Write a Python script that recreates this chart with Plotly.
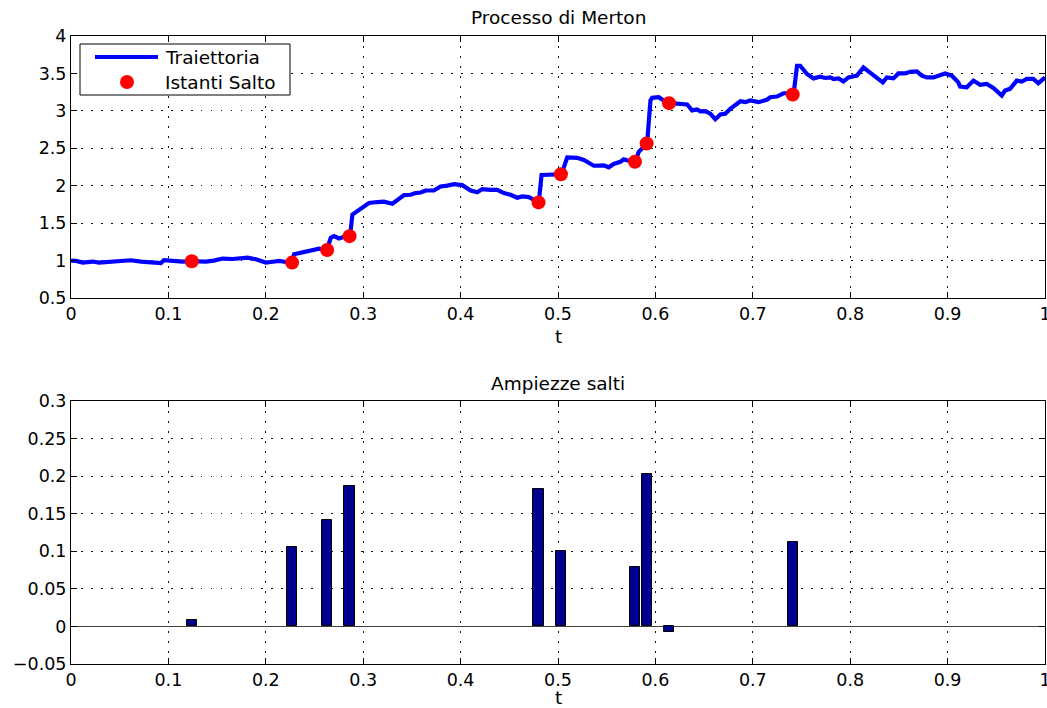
import plotly.graph_objects as go
from plotly.subplots import make_subplots

# Simulated Merton jump-diffusion path (time, level)
path_t = [0.0000, 0.0051, 0.0120, 0.0223, 0.0287, 0.0390, 0.0492, 0.0615, 0.0718, 0.0838,
          0.0923, 0.0954, 0.1044, 0.1146, 0.1231, 0.1385, 0.1467, 0.1556, 0.1659, 0.1723,
          0.1813, 0.1897, 0.2000, 0.2051, 0.2136, 0.2205, 0.2267, 0.2290, 0.2390, 0.2462,
          0.2547, 0.2626, 0.2667, 0.2701, 0.2752, 0.2803, 0.2865, 0.2889, 0.2974, 0.3059,
          0.3146, 0.3213, 0.3300, 0.3351, 0.3419, 0.3487, 0.3538, 0.3590, 0.3641, 0.3726,
          0.3795, 0.3864, 0.3931, 0.4017, 0.4103, 0.4171, 0.4223, 0.4308, 0.4377, 0.4444,
          0.4513, 0.4582, 0.4633, 0.4701, 0.4752, 0.4803, 0.4831, 0.4923, 0.5043, 0.5060,
          0.5095, 0.5197, 0.5265, 0.5368, 0.5470, 0.5521, 0.5572, 0.5641, 0.5675, 0.5726,
          0.5795, 0.5829, 0.5915, 0.5949, 0.5967, 0.6035, 0.6086, 0.6154, 0.6239, 0.6326,
          0.6377, 0.6428, 0.6462, 0.6513, 0.6564, 0.6615, 0.6667, 0.6718, 0.6769, 0.6872,
          0.6923, 0.6974, 0.7059, 0.7145, 0.7179, 0.7248, 0.7315, 0.7351, 0.7418, 0.7454,
          0.7487, 0.7556, 0.7623, 0.7692, 0.7744, 0.7795, 0.7829, 0.7879, 0.7931, 0.7982,
          0.8069, 0.8136, 0.8187, 0.8256, 0.8335, 0.8376, 0.8444, 0.8495, 0.8564, 0.8615,
          0.8684, 0.8735, 0.8787, 0.8855, 0.8923, 0.8974, 0.9043, 0.9110, 0.9128, 0.9197,
          0.9265, 0.9333, 0.9402, 0.9470, 0.9556, 0.9590, 0.9641, 0.9710, 0.9761, 0.9813,
          0.9880, 0.9931, 1.0000]
path_s = [1.000, 0.995, 0.973, 0.987, 0.973, 0.987, 0.995, 1.004, 0.987, 0.977,
          0.968, 1.004, 0.995, 0.987, 0.991, 0.987, 1.000, 1.027, 1.021, 1.027,
          1.040, 1.017, 0.973, 0.981, 0.995, 0.981, 0.973, 1.084, 1.114, 1.141,
          1.159, 1.141, 1.305, 1.326, 1.296, 1.318, 1.326, 1.614, 1.689, 1.769,
          1.782, 1.786, 1.760, 1.803, 1.875, 1.879, 1.902, 1.909, 1.936, 1.936,
          1.989, 2.002, 2.021, 2.008, 1.936, 1.912, 1.955, 1.945, 1.945, 1.902,
          1.879, 1.839, 1.856, 1.848, 1.813, 1.777, 2.144, 2.144, 2.153, 2.246,
          2.379, 2.373, 2.343, 2.267, 2.273, 2.246, 2.290, 2.320, 2.352, 2.334,
          2.320, 2.453, 2.564, 3.138, 3.174, 3.182, 3.138, 3.103, 3.095, 3.085,
          3.006, 3.019, 2.993, 2.997, 2.962, 2.887, 2.953, 2.962, 3.028, 3.129,
          3.116, 3.138, 3.116, 3.148, 3.182, 3.191, 3.235, 3.235, 3.218, 3.602,
          3.602, 3.492, 3.434, 3.457, 3.439, 3.447, 3.426, 3.434, 3.394, 3.447,
          3.470, 3.580, 3.527, 3.457, 3.381, 3.447, 3.434, 3.500, 3.500, 3.523,
          3.527, 3.470, 3.447, 3.447, 3.479, 3.500, 3.470, 3.381, 3.324, 3.315,
          3.404, 3.347, 3.360, 3.307, 3.205, 3.271, 3.294, 3.404, 3.390, 3.426,
          3.426, 3.368, 3.447]

# Jump instants, level just before each jump, and jump amplitudes
jump_t = [0.124, 0.227, 0.263, 0.286, 0.480, 0.503, 0.579, 0.591, 0.614, 0.741]
jump_level = [0.991, 0.973, 1.141, 1.326, 1.777, 2.153, 2.320, 2.564, 3.103, 3.218]
jump_size = [0.008, 0.106, 0.142, 0.187, 0.183, 0.100, 0.079, 0.203, -0.008, 0.113]

x_ticks = [0, 0.1, 0.2, 0.3, 0.4, 0.5, 0.6, 0.7, 0.8, 0.9, 1]
x_labels = ["0", "0.1", "0.2", "0.3", "0.4", "0.5", "0.6", "0.7", "0.8", "0.9", "1"]
y1_ticks = [0.5, 1, 1.5, 2, 2.5, 3, 3.5, 4]
y1_labels = ["0.5", "1", "1.5", "2", "2.5", "3", "3.5", "4"]
y2_ticks = [-0.05, 0, 0.05, 0.1, 0.15, 0.2, 0.25, 0.3]
y2_labels = ["\u22120.05", "0", "0.05", "0.1", "0.15", "0.2", "0.25", "0.3"]

legend_labels = ["Traiettoria", "Istanti Salto"]

FONT = "DejaVu Sans, Liberation Sans, Arial, sans-serif"
TICK_SIZE = 17.5
TEXT_SIZE = 18.5
LINE_BLUE = "#0000FF"
DOT_RED = "#FF0000"

W, H = 1047, 708
M_L, M_R, M_T, M_B = 71, 2, 36, 44
PLOT_W = W - M_L - M_R
PLOT_H = H - M_T - M_B


def px_x(p):
    # horizontal pixel -> paper coordinate
    return (p - M_L) / PLOT_W


def px_y(p):
    # vertical pixel (from top) -> paper coordinate
    return (H - M_B - p) / PLOT_H


fig = make_subplots(rows=2, cols=1, vertical_spacing=0.0)

fig.add_trace(go.Scatter(x=path_t, y=path_s, mode="lines", name=legend_labels[0],
                         showlegend=False,
                         line=dict(color=LINE_BLUE, width=4.2)), row=1, col=1)
fig.add_trace(go.Scatter(x=jump_t, y=jump_level, mode="markers", name=legend_labels[1],
                         showlegend=False,
                         marker=dict(color=DOT_RED, size=14, line=dict(width=0))),
              row=1, col=1)
fig.add_trace(go.Bar(x=jump_t, y=jump_size, width=0.0105, showlegend=False,
                     marker=dict(color="#00008F", line=dict(color="black", width=1))),
              row=2, col=1)

axis_common = dict(showline=True, linecolor="black", linewidth=1, mirror="ticks",
                   ticks="inside", ticklen=6, tickwidth=1, tickcolor="black",
                   showgrid=True, gridcolor="#111111", gridwidth=1,
                   griddash="1.5px,8.5px", ticklabeloverflow="allow", automargin=False,
                   tickfont=dict(family=FONT, size=TICK_SIZE, color="black"))

fig.update_xaxes(range=[0, 1], tickvals=x_ticks, ticktext=x_labels, zeroline=False,
                 **axis_common)
fig.update_yaxes(range=[0.5, 4], tickvals=y1_ticks, ticktext=y1_labels, zeroline=False,
                 row=1, col=1, **axis_common)
fig.update_yaxes(range=[-0.05, 0.3], tickvals=y2_ticks, ticktext=y2_labels,
                 zeroline=True, zerolinecolor="#404040", zerolinewidth=1,
                 row=2, col=1, **axis_common)

# Legend box of the upper panel, drawn in paper coordinates
legend_shapes = [
    dict(type="rect", xref="paper", yref="paper",
         x0=px_x(80), x1=px_x(290), y0=px_y(95), y1=px_y(44),
         fillcolor="white", line=dict(color="black", width=1), layer="above"),
    dict(type="line", xref="paper", yref="paper",
         x0=px_x(95), x1=px_x(158), y0=px_y(57), y1=px_y(57),
         line=dict(color=LINE_BLUE, width=4.2), layer="above"),
    dict(type="circle", xref="paper", yref="paper",
         x0=px_x(120), x1=px_x(134), y0=px_y(89), y1=px_y(75),
         fillcolor=DOT_RED, line=dict(color=DOT_RED, width=0), layer="above"),
]

legend_texts = [
    dict(text=legend_labels[0], x=px_x(163), y=px_y(57)),
    dict(text=legend_labels[1], x=px_x(163), y=px_y(82)),
]

annotations = []
for item in legend_texts:
    annotations.append(dict(text=item["text"], x=item["x"], y=item["y"],
                            xref="paper", yref="paper", xanchor="left",
                            yanchor="middle", showarrow=False,
                            font=dict(family=FONT, size=TEXT_SIZE)))

for text, ypix in [("Processo di Merton", 18), ("Ampiezze salti", 383),
                   ("t", 336), ("t", 697)]:
    annotations.append(dict(text=text, x=0.5, y=px_y(ypix), xref="paper", yref="paper",
                            xanchor="center", yanchor="middle", showarrow=False,
                            font=dict(family=FONT, size=TEXT_SIZE)))

fig.update_layout(
    width=W, height=H,
    margin=dict(l=M_L, r=M_R, t=M_T, b=M_B),
    paper_bgcolor="white", plot_bgcolor="white",
    font=dict(family=FONT, size=TEXT_SIZE, color="black"),
    bargap=0,
    showlegend=False,
    yaxis=dict(domain=[px_y(298), 1.0]),
    yaxis2=dict(domain=[0.0, px_y(401)]),
    shapes=legend_shapes,
    annotations=annotations,
)

fig.write_html("out.html")
